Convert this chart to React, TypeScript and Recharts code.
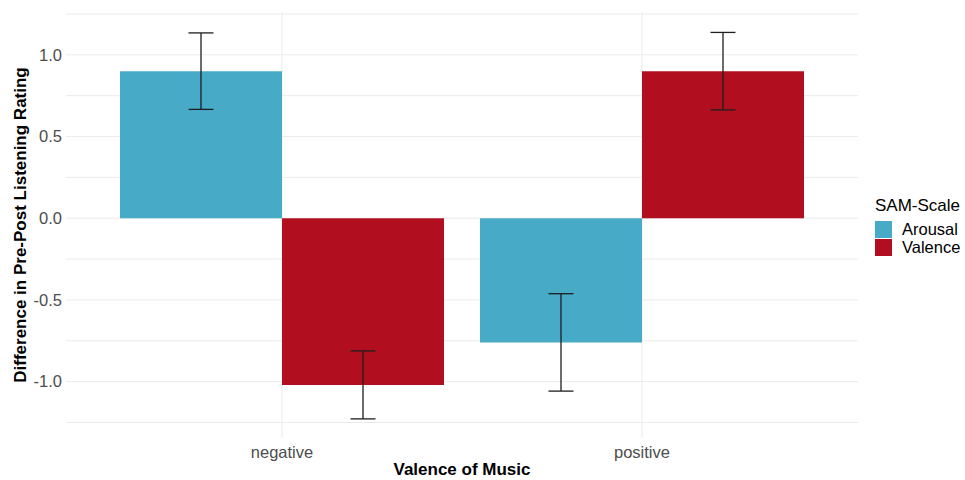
import React from 'react';
import { BarChart, Bar, XAxis, YAxis, CartesianGrid, ErrorBar, Legend, Label } from 'recharts';

const categories = ['negative', 'positive'];
const arousal = [0.9, -0.76];
const valence = [-1.02, 0.9];
const arousalErr = [0.234, 0.298];
const valenceErr = [0.208, 0.237];
const yTicks = [-1.25, -1, -0.75, -0.5, -0.25, 0, 0.25, 0.5, 0.75, 1, 1.25];
const yLabelTicks = [-1, -0.5, 0, 0.5, 1];
const legendTitle = 'SAM-Scale';
const xTitle = 'Valence of Music';
const yTitle = 'Difference in Pre-Post Listening Rating';

const data = categories.map((c, i) => ({
  category: c,
  arousal: arousal[i],
  valence: valence[i],
  arousalErr: arousalErr[i],
  valenceErr: valenceErr[i],
}));

const FONT = '"Liberation Sans", Arial, sans-serif';
const AROUSAL = '#47ABC8';
const VALENCE = '#B10F20';

const LegendContent = (props: any) => {
  const payload = props.payload || [];
  return (
    <div style={{ fontFamily: FONT, color: '#000' }}>
      <div style={{ fontSize: 17, lineHeight: '20px', marginBottom: 5 }}>{legendTitle}</div>
      {payload.map((p: any) => (
        <div key={p.value} style={{ display: 'flex', alignItems: 'center', height: 17.5 }}>
          <div style={{ width: 17, height: 17, background: p.color, marginRight: 10 }} />
          <span style={{ fontSize: 16.5, lineHeight: '17px' }}>{p.value}</span>
        </div>
      ))}
    </div>
  );
};

export default function App() {
  return (
    <div style={{ position: 'absolute', left: 0, top: 0, width: 965, height: 480, background: '#fff', fontFamily: FONT }}>
      <BarChart
        width={965}
        height={480}
        data={data}
        margin={{ top: 12, right: 107, bottom: 0, left: 0 }}
        barCategoryGap={18}
        barGap={0}
      >
        <CartesianGrid stroke="#EBEBEB" strokeWidth={1} syncWithTicks />
        <XAxis
          dataKey="category"
          type="category"
          padding={{ left: 36, right: 36 }}
          axisLine={false}
          tickLine={false}
          tickSize={0}
          tickMargin={8}
          height={42}
          tick={{ fill: '#4D4D4D', fontSize: 16.5 }}
        >
          <Label value={xTitle} position="insideBottom" offset={5} style={{ fontWeight: 'bold', fontSize: 17, fill: '#000' }} />
        </XAxis>
        <YAxis
          type="number"
          domain={[-1.345, 1.262]}
          allowDataOverflow
          ticks={yTicks}
          interval={0}
          tickFormatter={(v: number) => (yLabelTicks.includes(v) ? v.toFixed(1) : '')}
          axisLine={false}
          tickLine={false}
          tickSize={0}
          tickMargin={4}
          width={66}
          tick={{ fill: '#4D4D4D', fontSize: 16.5 }}
        >
          <Label
            content={(p: any) => {
              const vb = p.viewBox || { x: 0, y: 12, width: 66, height: 426 };
              const cx = vb.x + 26;
              const cy = vb.y + vb.height / 2;
              return (
                <text
                  x={0}
                  y={0}
                  transform={`translate(${cx}, ${cy}) rotate(-90)`}
                  textAnchor="middle"
                  style={{ fontWeight: 'bold', fontSize: 17, fill: '#000', fontFamily: FONT }}
                >
                  {yTitle}
                </text>
              );
            }}
          />
        </YAxis>
        <Legend
          layout="vertical"
          align="center"
          verticalAlign="middle"
          content={<LegendContent />}
          wrapperStyle={{ left: 875, top: 196, width: 90 }}
        />
        <Bar dataKey="arousal" name="Arousal" fill={AROUSAL} isAnimationActive={false}>
          <ErrorBar dataKey="arousalErr" width={12.5} stroke="#1E1E1E" strokeWidth={1.3} direction="y" />
        </Bar>
        <Bar dataKey="valence" name="Valence" fill={VALENCE} isAnimationActive={false}>
          <ErrorBar dataKey="valenceErr" width={12.5} stroke="#1E1E1E" strokeWidth={1.3} direction="y" />
        </Bar>
      </BarChart>
    </div>
  );
}
